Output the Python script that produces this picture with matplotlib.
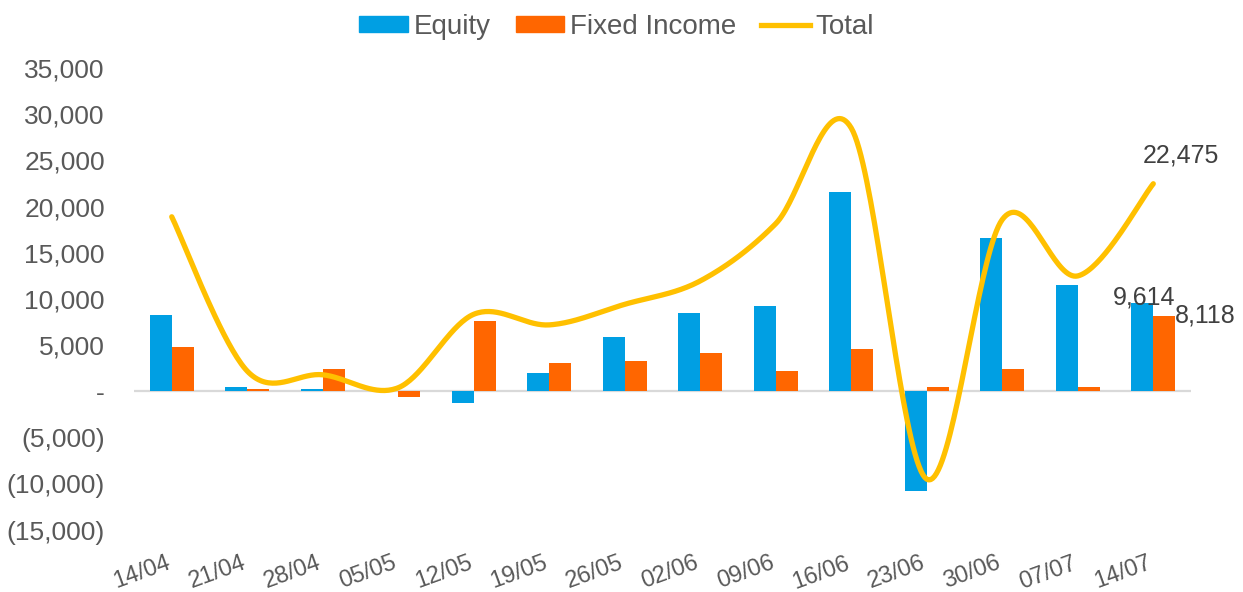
import numpy as np
import matplotlib; matplotlib.use("Agg")
import matplotlib.pyplot as plt
from matplotlib.patches import Patch
from matplotlib.lines import Line2D
from matplotlib.ticker import FuncFormatter
from matplotlib.transforms import ScaledTranslation

plt.rcParams['font.family'] = ['Liberation Sans', 'DejaVu Sans']

dates = ["14/04", "21/04", "28/04", "05/05", "12/05", "19/05", "26/05",
         "02/06", "09/06", "16/06", "23/06", "30/06", "07/07", "14/07"]
equity = [8250, 450, 240, 0, -1250, 1970, 5860, 8460, 9290, 21620, -10750, 16650, 11490, 9614]
fixed_income = [4780, 240, 2400, -600, 7600, 3050, 3260, 4130, 2180, 4560, 480, 2400, 480, 8118]
total = [18900, 2200, 1800, 400, 8350, 7200, 9430, 11960, 18160, 28500, -9500, 18600, 12500, 22475]
yticks = [-15000, -10000, -5000, 0, 5000, 10000, 15000, 20000, 25000, 30000, 35000]

C_EQ, C_FI, C_TOT = "#009FE3", "#FF6600", "#FFC000"
GREY = "#595959"


def smooth(xs, ys, n=40):
    """Excel-style smoothed line: cubic Bezier through the points (Catmull-Rom)."""
    p = np.column_stack([xs, ys]).astype(float)
    out = []
    for i in range(len(p) - 1):
        p0 = p[i - 1] if i > 0 else p[i]
        p1, p2 = p[i], p[i + 1]
        p3 = p[i + 2] if i + 2 < len(p) else p[i + 1]
        c1 = p1 + (p2 - p0) / 6
        c2 = p2 - (p3 - p1) / 6
        t = np.linspace(0, 1, n)[:, None]
        seg = (1 - t) ** 3 * p1 + 3 * (1 - t) ** 2 * t * c1 + 3 * (1 - t) * t ** 2 * c2 + t ** 3 * p2
        out.append(seg if i == 0 else seg[1:])
    out = np.vstack(out)
    return out[:, 0], out[:, 1]


def fmt(v, _=None):
    if v == 0:
        return "-"
    return f"({abs(v):,.0f})" if v < 0 else f"{v:,.0f}"


fig = plt.figure(figsize=(12.43, 5.92), dpi=100)
ax = fig.add_axes([0.1078, 0.1047, 0.8504, 0.7804])
x = np.arange(len(dates))
w = 0.29
ax.bar(x - w / 2, equity, w, color=C_EQ, zorder=2)
ax.bar(x + w / 2, fixed_income, w, color=C_FI, zorder=2)
ax.axhline(0, color="#D9D9D9", lw=1.6, zorder=1)
sx, sy = smooth(x, total)
ax.plot(sx, sy, color=C_TOT, lw=3.8, solid_capstyle="round", zorder=3)

ax.set_xlim(-0.5, len(dates) - 0.5)
ax.set_ylim(-15000, 35000)
ax.set_yticks(yticks)
ax.yaxis.set_major_formatter(FuncFormatter(fmt))
ax.set_xticks(x)
ax.set_xticklabels(dates, rotation=20, ha="right", va="top", rotation_mode="anchor")
ax.tick_params(axis="y", length=0, pad=21, labelsize=19, labelcolor=GREY)
ax.tick_params(axis="x", length=0, pad=16, labelsize=17, labelcolor=GREY)
shift = ScaledTranslation(-0.06, 0, fig.dpi_scale_trans)
for lab in ax.get_xticklabels():
    lab.set_transform(lab.get_transform() + shift)
for s in ax.spines.values():
    s.set_visible(False)

# data labels on the last week
i = len(dates) - 1
ax.annotate(f"{total[i]:,}", (x[i], total[i]), xytext=(20, 12), textcoords="offset points",
            ha="center", va="bottom", fontsize=18, color="#404040")
ax.annotate(f"{equity[i]:,}", (x[i] - w / 2, equity[i]), xytext=(1, -5), textcoords="offset points",
            ha="center", va="bottom", fontsize=18, color="#404040")
ax.annotate(f"{fixed_income[i]:,}", (x[i] + w, fixed_income[i]), xytext=(0, 1), textcoords="offset points",
            ha="left", va="center", fontsize=18, color="#404040")

handles = [Patch(color=C_EQ, label="Equity"), Patch(color=C_FI, label="Fixed Income"),
           Line2D([], [], color=C_TOT, lw=3.8, label="Total")]
leg = fig.legend(handles=handles, loc="center", bbox_to_anchor=(0.496, 0.955), ncol=3, frameon=False,
                 fontsize=20, handlelength=1.75, handleheight=0.5, handletextpad=0.2, columnspacing=0.9)
for t in leg.get_texts():
    t.set_color(GREY)

fig.savefig("out.png", dpi=100)
